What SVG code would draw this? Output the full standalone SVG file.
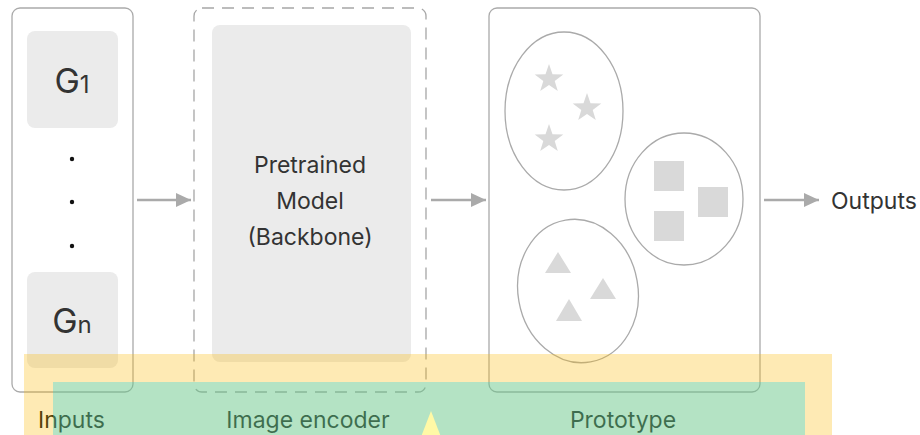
<svg xmlns="http://www.w3.org/2000/svg" width="920" height="435" viewBox="0 0 920 435">
<style>
.frame{fill:none;stroke:#aaaaaa;stroke-width:1.3}
.dash{fill:none;stroke:#a6a6a6;stroke-width:1.3;stroke-dasharray:12 8}
.block{fill:#ebebeb}
.shape{fill:#d9d9d9}
.ell{fill:none;stroke:#aaaaaa;stroke-width:1.3}
.t{font-family:Inter,"Noto Sans","DejaVu Sans",sans-serif;fill:#333333}
.lbl{font-family:Inter,"Noto Sans","DejaVu Sans",sans-serif;fill:#0d0d0d;font-size:23px}
.conn{stroke:#aaaaaa;stroke-width:2.5;fill:none}
</style>
<defs>
<marker id="ah" markerWidth="16" markerHeight="14" refX="15" refY="7" orient="auto" markerUnits="userSpaceOnUse">
<path d="M0,0 L15,7 L0,14 Z" fill="#aaaaaa"/>
</marker>
<path id="star" d="M0,-15 L3.5,-4.8 L14.3,-4.6 L5.7,1.9 L8.8,12.1 L0,6 L-8.8,12.1 L-5.7,1.9 L-14.3,-4.6 L-3.5,-4.8 Z"/>
</defs>
<rect width="920" height="435" fill="#ffffff"/>

<g id="inputs">
<rect class="frame" x="12" y="8" width="121" height="384" rx="8"/>
<g id="g1">
<rect class="block" x="27" y="31" width="91" height="97" rx="8"/>
<text class="t" x="72" y="93" text-anchor="middle"><tspan font-size="34">G</tspan><tspan font-size="24">1</tspan></text>
</g>
<circle cx="72" cy="159" r="2.2" fill="#111"/>
<circle cx="72" cy="202" r="2.2" fill="#111"/>
<circle cx="72" cy="246" r="2.2" fill="#111"/>
<g id="gn">
<rect class="block" x="27" y="272" width="91" height="96" rx="8"/>
<text class="t" x="72" y="333" text-anchor="middle"><tspan font-size="34">G</tspan><tspan font-size="24">n</tspan></text>
</g>
</g>

<g id="image-encoder">
<rect class="dash" x="194" y="8" width="232" height="384" rx="8"/>
<g id="backbone">
<rect class="block" x="212" y="25" width="199" height="337" rx="8"/>
<text class="t" font-size="23" text-anchor="middle"><tspan x="310" y="173">Pretrained</tspan><tspan x="310" y="209">Model</tspan><tspan x="310" y="245">(Backbone)</tspan></text>
</g>
</g>

<g id="prototype">
<rect class="frame" x="489" y="8" width="271" height="384" rx="8"/>
<g id="cluster-stars">
<ellipse class="ell" cx="564" cy="111" rx="59" ry="79"/>
<use href="#star" class="shape" x="549" y="79"/>
<use href="#star" class="shape" x="587" y="108"/>
<use href="#star" class="shape" x="549" y="139"/>
</g>
<g id="cluster-squares">
<ellipse class="ell" cx="684" cy="199" rx="59" ry="66"/>
<rect class="shape" x="654" y="161" width="30" height="30"/>
<rect class="shape" x="698" y="187" width="30" height="30"/>
<rect class="shape" x="654" y="211" width="30" height="30"/>
</g>
<g id="cluster-triangles">
<ellipse class="ell" cx="578" cy="291" rx="60" ry="72" transform="rotate(-10 578 291)"/>
<polygon class="shape" points="558,252 571,273 545,273"/>
<polygon class="shape" points="603,278 616,299 590,299"/>
<polygon class="shape" points="569,299 582,321 556,321"/>
</g>
</g>

<g id="outputs">
<text class="t" x="831" y="209" font-size="23" fill="#222">Outputs</text>
</g>

<g id="connectors">
<line class="conn" x1="137" y1="200" x2="191" y2="200" marker-end="url(#ah)"/>
<line class="conn" x1="431" y1="200" x2="486" y2="200" marker-end="url(#ah)"/>
<line class="conn" x1="764" y1="200" x2="819" y2="200" marker-end="url(#ah)"/>
</g>

<g id="labels">
<text class="lbl" x="38" y="428">Inputs</text>
<text class="lbl" x="308" y="428" text-anchor="middle">Image encoder</text>
<text class="lbl" x="623" y="428" text-anchor="middle">Prototype</text>
</g>

<g id="overlay">
<rect x="24" y="354" width="808" height="90" fill="rgb(252,185,8)" fill-opacity="0.3"/>
<rect x="53" y="382" width="752" height="60" fill="rgb(11,211,234)" fill-opacity="0.3"/>
<polygon points="431,411 421,437 441,437" fill="#fff9a6"/>
</g>
</svg>
